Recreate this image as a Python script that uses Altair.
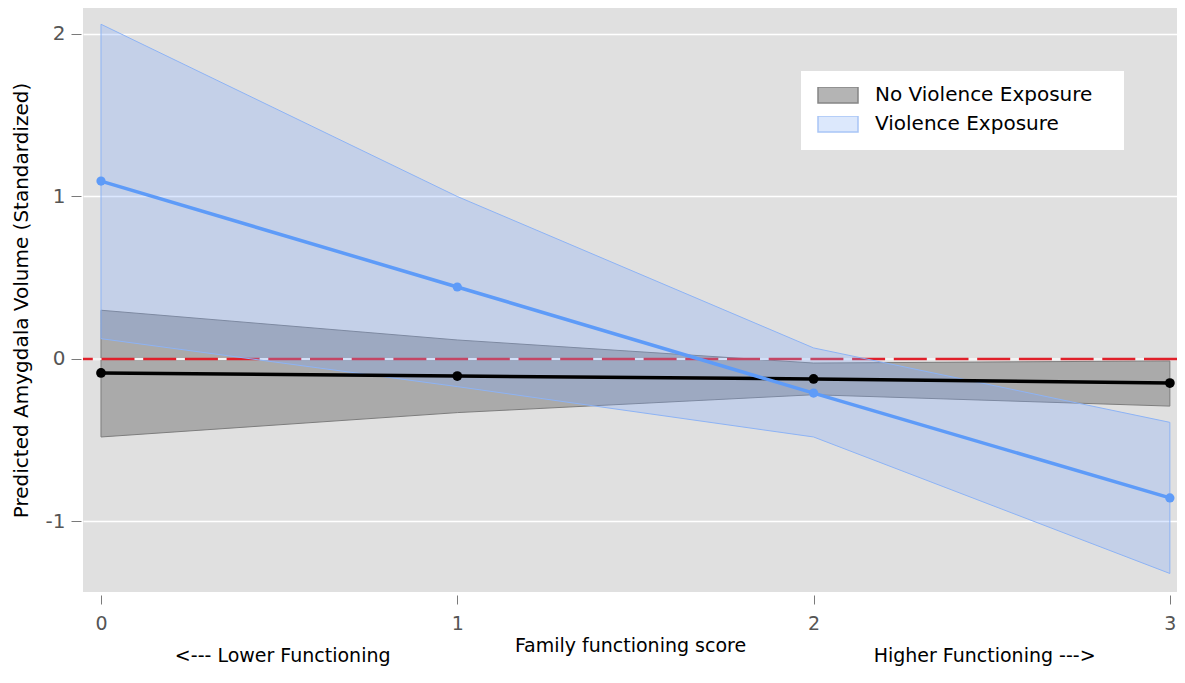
import altair as alt
import pandas as pd

# ---- data ----
x_vals = [0, 1, 2, 3]
no_fit = [-0.086, -0.105, -0.123, -0.148]
no_lo = [-0.48, -0.33, -0.22, -0.29]
no_hi = [0.30, 0.117, -0.025, -0.012]

v_fit = [1.095, 0.443, -0.21, -0.855]
v_lo = [0.125, -0.17, -0.48, -1.32]
v_hi = [2.06, 1.0, 0.068, -0.39]

series_names = ["No Violence Exposure", "Violence Exposure"]
y_ticks = [-1, 0, 1, 2]
x_ticks = [0, 1, 2, 3]
ref_line = [0]
ann_x = [0.51, 2.48]
ann_text = ["<--- Lower Functioning", "Higher Functioning --->"]

FONT = "DejaVu Sans"

df_no = pd.DataFrame({"x": x_vals, "fit": no_fit, "lo": no_lo, "hi": no_hi})
df_v = pd.DataFrame({"x": x_vals, "fit": v_fit, "lo": v_lo, "hi": v_hi})
df_ref = pd.DataFrame({"y": ref_line})
df_ann = pd.DataFrame({"x": ann_x, "label": ann_text})
df_leg = pd.DataFrame({"series": series_names, "x": [10, 10], "y": [10, 10]})

xs = alt.Scale(domain=[-0.0505, 3.02], nice=False, zero=False)
ys = alt.Scale(domain=[-1.434, 2.16], nice=False, zero=False)

x_axis = alt.Axis(
    values=x_ticks, format="d", grid=False, domain=False,
    offset=3, tickSize=9, tickColor="#7a7a7a", tickWidth=1,
    labelPadding=10, labelFontSize=19, labelColor="#555555", labelFont=FONT,
    title="Family functioning score", titleFontSize=19, titleColor="#000000",
    titleFont=FONT, titleFontWeight="normal", titlePadding=3,
)
y_axis = alt.Axis(
    values=y_ticks, grid=True, gridColor="#ffffff", gridWidth=1.5, domain=False,
    offset=2, tickSize=10, tickColor="#7a7a7a", tickWidth=1,
    labelPadding=6, labelFontSize=20, labelColor="#555555", labelFont=FONT,
    labelExpr="datum.value < 0 ? '-' + abs(datum.value) : '' + datum.value",
    title="Predicted Amygdala Volume (Standardized)", titleFontSize=20,
    titleColor="#000000", titleFont=FONT, titleFontWeight="normal", titlePadding=14,
)

X = alt.X("x:Q", scale=xs, axis=x_axis)

gray_band = alt.Chart(df_no).mark_area(
    fill="#aaaaaa", fillOpacity=1, stroke="#7d7d7d", strokeWidth=1, clip=True
).encode(x=X, y=alt.Y("lo:Q", scale=ys, axis=y_axis), y2="hi:Q")

zero_white = alt.Chart(df_ref).mark_rule(color="#f4f4f4", strokeWidth=2).encode(
    y=alt.Y("y:Q", scale=ys, axis=y_axis)
)
zero_red = alt.Chart(df_ref).mark_rule(
    color="#e0202a", strokeWidth=2.5, strokeDash=[33, 8.7]
).encode(y=alt.Y("y:Q", scale=ys, axis=y_axis))

blue_band = alt.Chart(df_v).mark_area(
    fill="#7daaff", fillOpacity=0.28, stroke="#8db3f5", strokeWidth=1, clip=True
).encode(x=X, y=alt.Y("lo:Q", scale=ys, axis=y_axis), y2="hi:Q")

no_line = alt.Chart(df_no).mark_line(color="#000000", strokeWidth=3.5, clip=True).encode(
    x=X, y=alt.Y("fit:Q", scale=ys, axis=y_axis)
)
no_pts = alt.Chart(df_no).mark_circle(color="#000000", size=95, opacity=1, clip=True).encode(
    x=X, y=alt.Y("fit:Q", scale=ys, axis=y_axis)
)
v_line = alt.Chart(df_v).mark_line(color="#5e9bf8", strokeWidth=3.5, clip=True).encode(
    x=X, y=alt.Y("fit:Q", scale=ys, axis=y_axis)
)
v_pts = alt.Chart(df_v).mark_circle(color="#5e9bf8", size=85, opacity=1, clip=True).encode(
    x=X, y=alt.Y("fit:Q", scale=ys, axis=y_axis)
)

ann = alt.Chart(df_ann).mark_text(
    font=FONT, fontSize=19, color="#000000", baseline="middle", align="center"
).encode(x=X, y=alt.value(648), text="label:N")

leg = alt.Legend(
    title="\u00a0", titleOrient="right", titleFontSize=20, titlePadding=16,
    orient="none", legendX=718, legendY=63,
    fillColor="#ffffff", padding=16,
    symbolType="M-1,-0.4H1V0.4H-1Z", symbolSize=1600, symbolStrokeWidth=1.5,
    symbolOpacity=1, clipHeight=16, rowPadding=9, labelOffset=16,
    labelFont=FONT, labelFontSize=20, labelColor="#000000", labelLimit=400,
)
legend_layer = alt.Chart(df_leg).mark_area(opacity=1, clip=True).encode(
    x=X,
    y=alt.Y("y:Q", scale=ys, axis=y_axis),
    y2="y:Q",
    fill=alt.Fill("series:N", scale=alt.Scale(domain=series_names,
                                                range=["#b4b4b4", "#dce8fc"]), legend=leg),
    stroke=alt.Stroke("series:N", scale=alt.Scale(domain=series_names,
                                                    range=["#858585", "#a8c5f6"]), legend=leg),
)

chart = alt.layer(
    gray_band, zero_white, zero_red, blue_band,
    no_line, v_line, no_pts, v_pts, ann, legend_layer,
).properties(
    width=1094, height=584,
    background="#ffffff",
    autosize=alt.AutoSizeParams(type="none"),
    padding={"left": 75, "top": 0, "right": 0, "bottom": 75},
).configure_view(
    fill="#e0e0e0", strokeWidth=0
)

chart.save("out.html", embed_options={"renderer": "svg", "actions": False})
